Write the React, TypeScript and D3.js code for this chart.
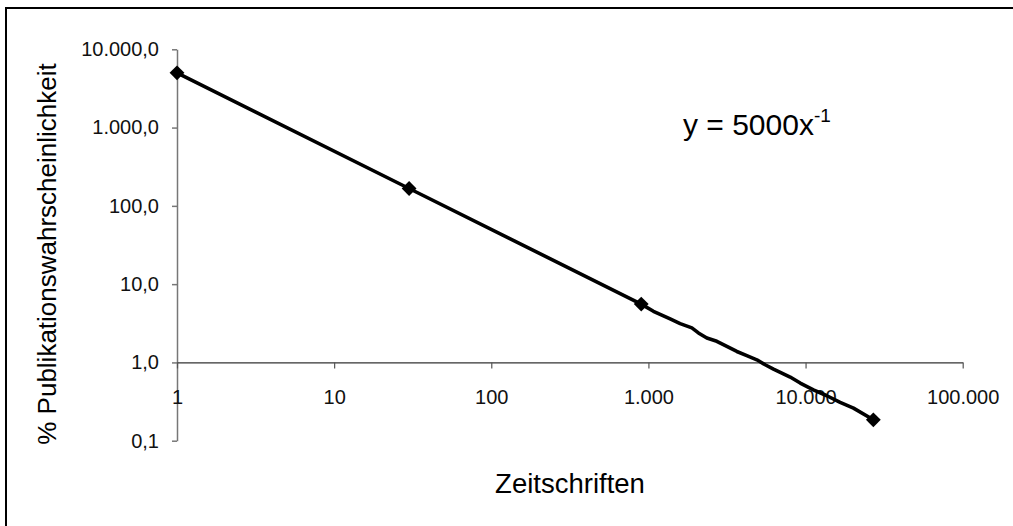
import { useEffect, useRef } from "react";
import * as d3 from "d3";

// x-axis: Zeitschriften (journals), y-axis: % publication probability
const xTicks = [1, 10, 100, 1000, 10000, 100000];
const xTickLabels = ["1", "10", "100", "1.000", "10.000", "100.000"];
const yTicks = [0.1, 1, 10, 100, 1000, 10000];
const yTickLabels = ["0,1", "1,0", "10,0", "100,0", "1.000,0", "10.000,0"];

// marked points
const markerX = [1, 30, 900, 27000];
const markerY = [5000, 166.7, 5.56, 0.185];

// curve (slightly wavy tail)
const curveX = [1, 30, 900, 1076, 1375, 1592, 1890, 2081, 2354, 2724, 3156, 3653, 4228, 4898, 5533, 6250, 7063, 7980, 9246, 11220, 13670, 16600, 20180, 27000];
const curveY = [5000, 166.7, 5.56, 4.5, 3.59, 3.13, 2.76, 2.38, 2.05, 1.86, 1.6, 1.38, 1.22, 1.08, 0.934, 0.823, 0.732, 0.65, 0.545, 0.447, 0.375, 0.308, 0.261, 0.185];

const FONT = "'Liberation Sans', Arial, sans-serif";

export default function App() {
  const svgRef = useRef<SVGSVGElement | null>(null);

  useEffect(() => {
    if (!svgRef.current) return;
    const svg = d3.select(svgRef.current);
    svg.selectAll("*").remove();

    const width = 1013;
    const height = 526;
    svg.attr("width", width).attr("height", height);

    svg.append("rect").attr("width", width).attr("height", height).attr("fill", "white");

    // outer frame (right and bottom edges fall outside the picture)
    svg
      .append("rect")
      .attr("x", 6)
      .attr("y", 8)
      .attr("width", 1020)
      .attr("height", 530)
      .attr("fill", "none")
      .attr("stroke", "black")
      .attr("stroke-width", 2);

    const x = d3.scaleLog().domain([1, 100000]).range([177, 962.7]);
    const y = d3.scaleLog().domain([0.1, 10000]).range([440.7, 49.3]);

    // Y axis
    const yAxis = d3
      .axisLeft(y)
      .tickValues(yTicks)
      .tickSize(5)
      .tickSizeOuter(0)
      .tickPadding(13)
      .tickFormat((_, i) => yTickLabels[i]);
    const gy = svg.append("g").attr("transform", `translate(${x(1)},0)`).call(yAxis);
    gy.select(".domain").attr("stroke", "#777").attr("stroke-width", 1.5);
    gy.selectAll(".tick line").attr("stroke", "#777").attr("stroke-width", 1.5);
    gy.selectAll(".tick text").attr("fill", "#111").style("font-family", FONT).style("font-size", "20px");

    // X axis crossing at y = 1
    const xAxis = d3
      .axisBottom(x)
      .tickValues(xTicks)
      .tickSize(6)
      .tickSizeOuter(0)
      .tickPadding(21)
      .tickFormat((_, i) => xTickLabels[i]);
    const gx = svg.append("g").attr("transform", `translate(0,${y(1)})`).call(xAxis);
    gx.select(".domain").attr("stroke", "#333").attr("stroke-width", 1.2);
    gx.selectAll(".tick line").attr("stroke", "#555").attr("stroke-width", 1.2);
    gx.selectAll(".tick text").attr("fill", "#111").style("font-family", FONT).style("font-size", "20px");

    // curve
    const curve = curveX.map((v, i) => [v, curveY[i]] as [number, number]);
    const line = d3
      .line<[number, number]>()
      .x((d) => x(d[0]))
      .y((d) => y(d[1]));
    svg
      .append("path")
      .datum(curve)
      .attr("d", line)
      .attr("fill", "none")
      .attr("stroke", "black")
      .attr("stroke-width", 3.6)
      .attr("stroke-linejoin", "round");

    // diamond markers
    const diamond = d3.symbol().type(d3.symbolDiamond2).size(140);
    svg
      .selectAll("path.marker")
      .data(markerX)
      .enter()
      .append("path")
      .attr("class", "marker")
      .attr("d", diamond)
      .attr("transform", (d, i) => `translate(${x(d)},${y(markerY[i])})`)
      .attr("fill", "black");

    // equation
    const eq = svg
      .append("text")
      .attr("x", 683)
      .attr("y", 135)
      .style("font-family", FONT)
      .style("font-size", "30px")
      .attr("fill", "black");
    eq.append("tspan").text("y = 5000x");
    eq.append("tspan").attr("dy", -13).style("font-size", "19px").text("-1");

    // axis titles
    svg
      .append("text")
      .attr("x", 570)
      .attr("y", 493)
      .attr("text-anchor", "middle")
      .style("font-family", FONT)
      .style("font-size", "27.5px")
      .attr("fill", "black")
      .text("Zeitschriften");

    svg
      .append("text")
      .attr("transform", "rotate(-90)")
      .attr("x", -254)
      .attr("y", 56)
      .attr("text-anchor", "middle")
      .style("font-family", FONT)
      .style("font-size", "26px")
      .attr("fill", "black")
      .text("% Publikationswahrscheinlichkeit");
  }, []);

  return <svg ref={svgRef} style={{ position: "absolute", left: 0, top: 0, display: "block" }}></svg>;
}
